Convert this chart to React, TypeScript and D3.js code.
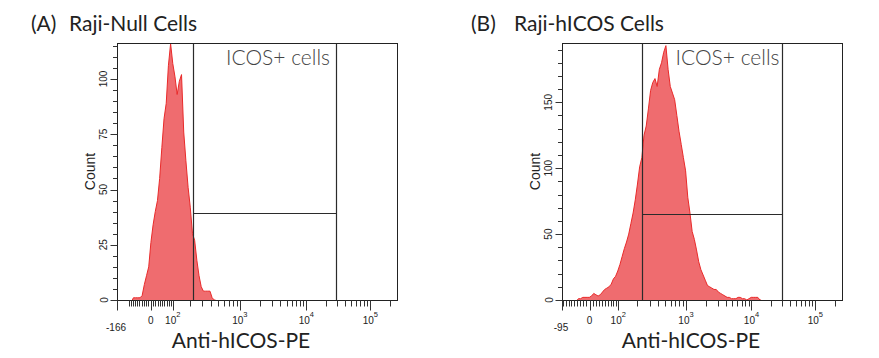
import React from "react";
import * as d3 from "d3";

// ---------- data ----------
const T_MAX = 262144;
const M_DECADES = 4.4;
const CHANNELS = 128;

const panelTags = ["(A)", "(B)"];
const panelTitles = ["Raji-Null Cells", "Raji-hICOS Cells"];
const axisTitle = "Anti-hICOS-PE";
const yTitle = "Count";
const gateLabel = "ICOS+ cells";

// histogram counts per display channel (128 channels), starting at the given channel
const nullStartChannel = 7;
const nullCounts = [1, 1, 1, 1, 2, 7, 11, 15, 26, 34, 40, 45, 55, 69, 82, 89, 106, 116, 107, 101, 93, 99, 102, 76, 63, 51, 42, 30, 27, 18, 11, 6, 4, 4, 4, 4, 1, 0];

const icosStartChannel = 7;
const icosCounts = [1, 1, 2, 2, 2, 2, 3, 5, 4, 3, 4, 6, 8, 9, 10, 12, 16, 18, 22, 27, 33, 39, 44, 50, 58, 66, 76, 88, 101, 108, 125, 132, 145, 159, 165, 168, 162, 175, 180, 188, 193, 175, 162, 157, 152, 140, 128, 118, 108, 98, 78, 66, 52, 46, 38, 29, 23, 19, 15, 11, 10, 9, 8, 8, 6, 5, 4, 3, 2, 2, 1, 1, 1, 2, 2, 1, 1, 0, 1, 2, 2, 2, 2, 0];

// logicle linearization widths
const linWidths = [0.53, 0.434];
const minLabels = ["-166", "-95"];

// y axes
const yMaxes = [116.3, 195];
const yMajors = [[0, 25, 50, 75, 100], [0, 50, 100, 150]];
const yMinorSteps = [5, 10];

// gates [low, high, level]
const gateLows = [225, 232];
const gateHighs = [28600, 30300];
const gateLevels = [39.3, 65.6];

// x axis ticks
const xMajorTicks = [0, 100, 1000, 10000, 100000];
const xMajorExps = [null, 2, 3, 4, 5];
const xMinorTicks = [
  -100, -90, -80, -70, -60, -50, -40, -30, -20, -10,
  10, 20, 30, 40, 50, 60, 70, 80, 90,
  200, 300, 400, 500, 600, 700, 800, 900,
  2000, 3000, 4000, 5000, 6000, 7000, 8000, 9000,
  20000, 30000, 40000, 50000, 60000, 70000, 80000, 90000,
  200000,
];

// ---------- logicle ----------
function makeLogicle(T: number, M: number, W: number) {
  let lo = 1.0001, hi = 50;
  const wOf = (p: number) => (2 * p * Math.log10(p)) / (p + 1);
  for (let i = 0; i < 80; i++) {
    const mid = (lo + hi) / 2;
    if (wOf(mid) < W) lo = mid; else hi = mid;
  }
  const p = (lo + hi) / 2;
  const k = T * Math.pow(10, -(M - W));
  const S = (y: number): number => {
    if (y >= W) return k * (Math.pow(10, y - W) - p * p * Math.pow(10, -(y - W) / p) + p * p - 1);
    return -S(2 * W - y);
  };
  const frac = (v: number) => {
    let a = -M, b = M + 1;
    for (let i = 0; i < 80; i++) {
      const m = (a + b) / 2;
      if (S(m) < v) a = m; else b = m;
    }
    return (a + b) / 2 / M;
  };
  return { S, frac };
}

const TOP = 43;
const BOTTOM = 300;
const FONT_TICK = "'Liberation Sans', Arial, sans-serif";
const FONT_TEXT = "Lato, 'Open Sans', sans-serif";

type Cfg = {
  idx: number;
  x0: number;
  x1: number;
  start: number;
  counts: number[];
  tagX: number;
  titleX: number;
  axisTitleX: number;
  gateTextPad: number;
};

function Panel({ cfg }: { cfg: Cfg }) {
  const i = cfg.idx;
  const L = makeLogicle(T_MAX, M_DECADES, linWidths[i]);
  const fx = d3.scaleLinear().domain([0, 1]).range([cfg.x0, cfg.x1]);
  const xv = (v: number) => fx(L.frac(v));
  const ch = d3.scaleLinear().domain([0, CHANNELS]).range([cfg.x0, cfg.x1]);
  const y = d3.scaleLinear().domain([0, yMaxes[i]]).range([BOTTOM, TOP]);

  const pts: [number, number][] = [[ch(cfg.start), y(0)]];
  cfg.counts.forEach((c, k) => pts.push([ch(cfg.start + k + 0.5), y(c)]));
  pts.push([ch(cfg.start + cfg.counts.length), y(0)]);

  const area = d3.area<[number, number]>().x((d) => d[0]).y0(y(0)).y1((d) => d[1]);
  const line = d3.line<[number, number]>().x((d) => d[0]).y((d) => d[1]);

  const r = (v: number) => Math.round(v) + 0.5;
  const minorY: number[] = [];
  for (let v = 0; v <= yMaxes[i]; v += yMinorSteps[i]) {
    if (!yMajors[i].includes(v)) minorY.push(v);
  }
  const minVal = L.S(0);
  const minors = xMinorTicks.filter((v) => v > minVal && v < T_MAX);

  const gx0 = r(xv(gateLows[i]));
  const gx1 = r(xv(gateHighs[i]));
  const gy = r(y(gateLevels[i]));

  return (
    <g>
      {/* titles */}
      <text x={cfg.tagX} y={30.5} fontFamily={FONT_TEXT} fontSize={21} fill="#222">{panelTags[i]}</text>
      <text x={cfg.titleX} y={30.5} fontFamily={FONT_TEXT} fontSize={21} fill="#222">{panelTitles[i]}</text>

      {/* histogram */}
      <path d={area(pts) || ""} fill="#ef6c6f" />
      <path d={line(pts) || ""} fill="none" stroke="#e92a2a" strokeWidth={1} />

      {/* gate */}
      <g stroke="#2b2b2b" strokeWidth={1.2} fill="none">
        <line x1={gx0} x2={gx0} y1={TOP} y2={BOTTOM} />
        <line x1={gx1} x2={gx1} y1={TOP} y2={BOTTOM} />
        <line x1={gx0} x2={gx1} y1={gy} y2={gy} />
      </g>
      <text x={gx1 - cfg.gateTextPad} y={65} textAnchor="end" fontFamily={FONT_TEXT} fontWeight={300} fontSize={21} fill="#444">{gateLabel}</text>

      {/* frame */}
      <rect x={r(cfg.x0)} y={r(TOP)} width={Math.round(cfg.x1) - Math.round(cfg.x0)} height={Math.round(BOTTOM) - Math.round(TOP)} fill="none" stroke="#222" strokeWidth={1} />

      {/* y axis */}
      <g stroke="#333" strokeWidth={1}>
        {yMajors[i].map((v) => (
          <line key={"M" + v} x1={r(cfg.x0) - 7} x2={r(cfg.x0)} y1={r(y(v))} y2={r(y(v))} />
        ))}
        {minorY.map((v) => (
          <line key={"m" + v} x1={r(cfg.x0) - 4.5} x2={r(cfg.x0)} y1={r(y(v))} y2={r(y(v))} />
        ))}
      </g>
      {yMajors[i].map((v) => {
        const tx = cfg.x0 - 9.5;
        const ty = y(v);
        return (
          <text key={"yl" + v} x={tx} y={ty} transform={`rotate(-90, ${tx}, ${ty})`} textAnchor="middle" fontFamily={FONT_TICK} fontSize={10} fill="#222">{v}</text>
        );
      })}
      <text x={cfg.x0 - 22} y={171.5} transform={`rotate(-90, ${cfg.x0 - 22}, 171.5)`} textAnchor="middle" fontFamily={FONT_TICK} fontSize={14} fill="#222">{yTitle}</text>

      {/* x axis */}
      <g stroke="#333" strokeWidth={1}>
        <line x1={r(cfg.x0)} x2={r(cfg.x0)} y1={r(BOTTOM)} y2={r(BOTTOM) + 10} />
        {xMajorTicks.map((v) => (
          <line key={"xM" + v} x1={r(xv(v))} x2={r(xv(v))} y1={r(BOTTOM)} y2={r(BOTTOM) + 10} />
        ))}
        {minors.map((v) => (
          <line key={"xm" + v} x1={r(xv(v))} x2={r(xv(v))} y1={r(BOTTOM)} y2={r(BOTTOM) + 6} />
        ))}
      </g>
      <text x={cfg.x0 - 1} y={330.5} textAnchor="middle" fontFamily={FONT_TICK} fontSize={10} fill="#222">{minLabels[i]}</text>
      {xMajorTicks.map((v, k) => (
        <text key={"xl" + v} x={xv(v)} y={323.5} textAnchor="middle" fontFamily={FONT_TICK} fontSize={10} fill="#222">
          {xMajorExps[k] === null ? (
            String(v)
          ) : (
            <>
              {"10"}
              <tspan dy={-6.5} fontSize={7.5}>{xMajorExps[k]}</tspan>
            </>
          )}
        </text>
      ))}
      <text x={cfg.axisTitleX} y={347.5} textAnchor="middle" fontFamily={FONT_TEXT} fontSize={21} fill="#222">{axisTitle}</text>
    </g>
  );
}

export default function App() {
  const cfgs: Cfg[] = [
    { idx: 0, x0: 117, x1: 397, start: nullStartChannel, counts: nullCounts, tagX: 31, titleX: 69, axisTitleX: 241, gateTextPad: 6.5 },
    { idx: 1, x0: 562, x1: 842, start: icosStartChannel, counts: icosCounts, tagX: 471, titleX: 514, axisTitleX: 691, gateTextPad: 3 },
  ];
  return (
    <svg width={879} height={358} style={{ position: "absolute", left: 0, top: 0, background: "#fff" }}>
      <rect width={879} height={358} fill="#fff" />
      {cfgs.map((c) => (
        <Panel key={c.idx} cfg={c} />
      ))}
    </svg>
  );
}
